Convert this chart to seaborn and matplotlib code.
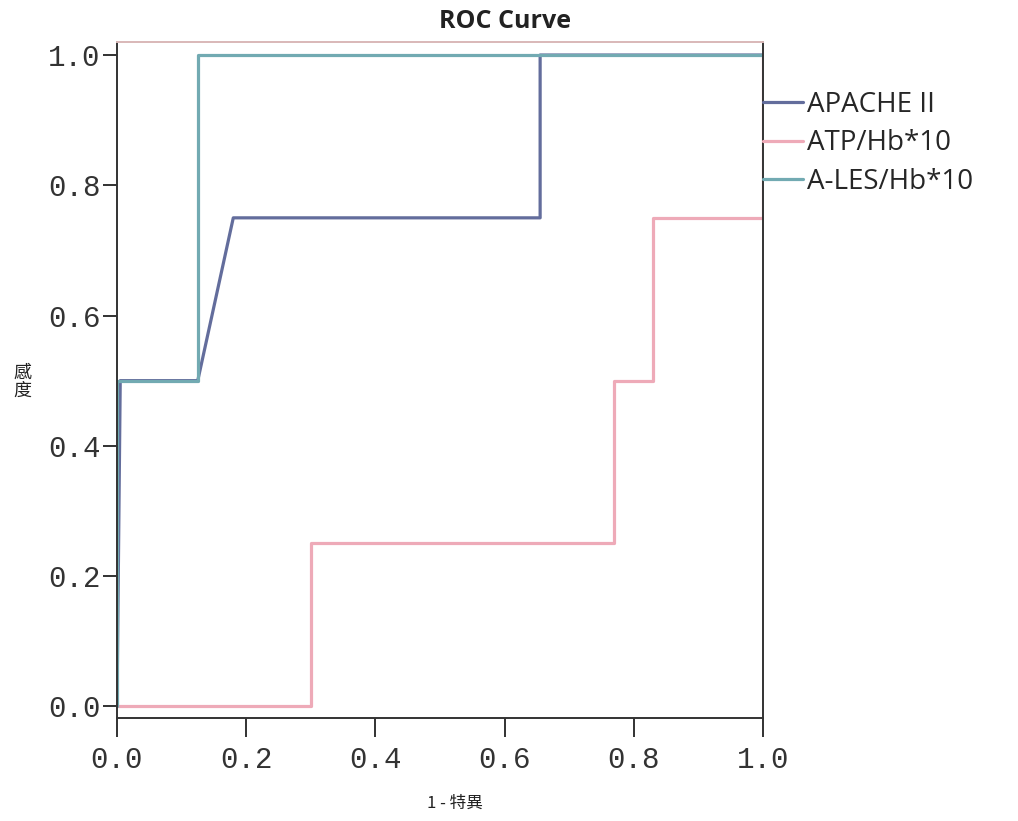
import matplotlib
matplotlib.use("Agg")
import matplotlib.pyplot as plt
import seaborn as sns
import pandas as pd
from matplotlib.lines import Line2D

# ROC curve vertices (1 - specificity, sensitivity) for each predictor
apache_fpr = [0.0, 0.005, 0.125, 0.18, 0.655, 0.655, 1.0]
apache_tpr = [0.0, 0.5, 0.5, 0.75, 0.75, 1.0, 1.0]

atp_fpr = [0.0, 0.3, 0.3, 0.77, 0.77, 0.83, 0.83, 1.0, 1.0]
atp_tpr = [0.0, 0.0, 0.25, 0.25, 0.5, 0.5, 0.75, 0.75, 1.0]

ales_fpr = [0.0, 0.0, 0.125, 0.125, 1.0]
ales_tpr = [0.0, 0.5, 0.5, 1.0, 1.0]

series_names = ["APACHE II", "ATP/Hb*10", "A-LES/Hb*10"]
series_colors = ["#636d9c", "#eeaab8", "#72aab2"]
tick_values = [0.0, 0.2, 0.4, 0.6, 0.8, 1.0]

frames = []
for name, fx, ty in zip(series_names,
                        [apache_fpr, atp_fpr, ales_fpr],
                        [apache_tpr, atp_tpr, ales_tpr]):
    frames.append(pd.DataFrame({"fpr": fx, "tpr": ty, "curve": name}))
df = pd.concat(frames, ignore_index=True)

sns.set_style("ticks")
plt.rcParams["font.family"] = ["DejaVu Sans", "Noto Sans CJK TC"]

fig = plt.figure(figsize=(10.18, 8.21), dpi=100)
ax = fig.add_axes([117 / 1018, 1 - 718 / 821, (763 - 117) / 1018, (718 - 42) / 821])

sns.lineplot(data=df, x="fpr", y="tpr", hue="curve", units="curve",
             estimator=None, sort=False, palette=dict(zip(series_names, series_colors)),
             hue_order=series_names, linewidth=2.3, ax=ax, legend=False)

ax.set_xlim(0, 1.0)
ax.set_ylim(-0.018, 1.02)
ax.set_xticks(tick_values)
ax.set_yticks(tick_values)
ax.set_xticklabels([f"{v:.1f}" for v in tick_values], family="Liberation Mono",
                   fontsize=21, color="#333333")
ax.set_yticklabels([f"{v:.1f}" for v in tick_values], family="Liberation Mono",
                   fontsize=21, color="#333333")
ax.tick_params(axis="x", length=14, width=1.3, pad=6, color="#222222")
ax.tick_params(axis="y", length=10, width=1.3, pad=2, color="#222222")
ax.set_xlabel("")
ax.set_ylabel("")

for side in ["left", "bottom", "right"]:
    ax.spines[side].set_color("#333333")
    ax.spines[side].set_linewidth(1.4)
ax.spines["top"].set_color("#d9b8b8")
ax.spines["top"].set_linewidth(1.4)

handles = [Line2D([0], [0], color=c, linewidth=2.3) for c in series_colors]
ax.legend(handles, series_names, loc="upper left", bbox_to_anchor=(1.0, 0.928),
          frameon=False, borderaxespad=0, borderpad=0, handlelength=1.45,
          handletextpad=0.15, labelspacing=0.38,
          prop={"family": "Open Sans", "size": 20})

fig.text(505 / 1018, 1 - 22 / 821, "ROC Curve", ha="center", va="center",
         fontsize=18, fontweight="bold", family="Open Sans", color="#222222")
fig.text(455 / 1018, 1 - 803 / 821, "1 - 特異", ha="center", va="center",
         fontsize=12, family=["Noto Sans CJK TC", "DejaVu Sans"], color="#222222")
fig.text(22 / 1018, 1 - 382 / 821, "感\n度", ha="center", va="center",
         fontsize=13, linespacing=1.0, family=["Noto Sans CJK TC", "DejaVu Sans"],
         color="#222222")

fig.savefig("out.png", dpi=100, facecolor="white")
